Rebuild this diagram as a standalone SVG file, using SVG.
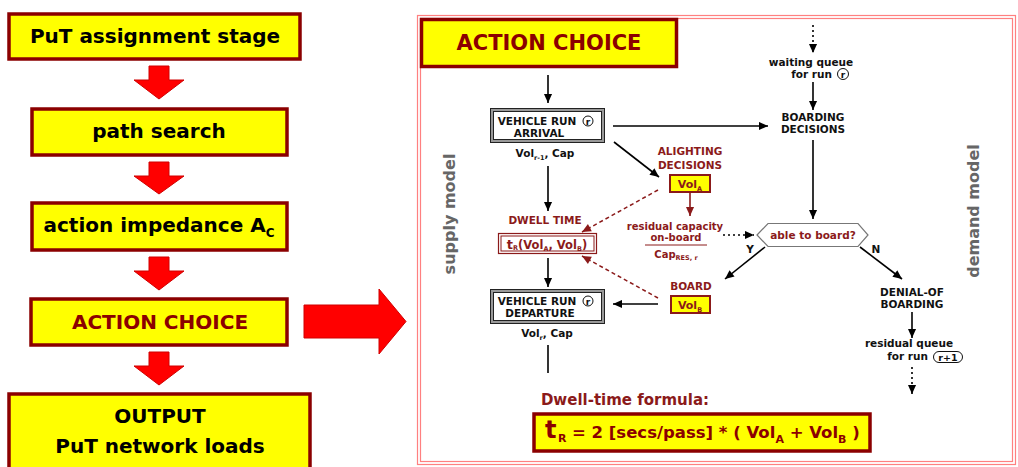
<svg xmlns="http://www.w3.org/2000/svg" width="1018" height="467" viewBox="0 0 1018 467">
<style>
text{font-family:"DejaVu Sans","Verdana",sans-serif;font-weight:bold}
.lbox{fill:#ffff00;stroke:#8b0000;stroke-width:3.5}
.ltxt{font-size:20px;fill:#000;text-anchor:middle}
.rarrow{fill:#ff0000;stroke:#d00000;stroke-width:1}
.s{font-size:10.5px;fill:#111;text-anchor:middle}
.sr{font-size:10.5px;fill:#8b1a1a;text-anchor:middle}
.sub{font-size:6.5px}
.ybox{fill:#ffff00;stroke:#8b1a1a;stroke-width:2}
.conn{stroke:#000;stroke-width:1.6;fill:none}
.dot{stroke:#000;stroke-width:1.6;fill:none;stroke-dasharray:2 3}
.dash{stroke:#8b1a1a;stroke-width:1.5;fill:none;stroke-dasharray:4 3}
.side{font-size:16px;fill:#666;text-anchor:middle}
</style>
<defs>
<marker id="ah" viewBox="0 0 10 10" refX="10" refY="5" markerWidth="10" markerHeight="9" markerUnits="userSpaceOnUse" orient="auto"><path d="M0,0.5 L10,5 L0,9.5 Z" fill="#000"/></marker>
<marker id="ahr" viewBox="0 0 10 10" refX="10" refY="5" markerWidth="10" markerHeight="9" markerUnits="userSpaceOnUse" orient="auto"><path d="M0,0.5 L10,5 L0,9.5 Z" fill="#8b1a1a"/></marker>
</defs>
<rect width="1018" height="467" fill="#fff"/>

<!-- left flow -->
<g id="n-assign"><rect class="lbox" x="9" y="14" width="291" height="45"/><text class="ltxt" x="155" y="43">PuT assignment stage</text></g>
<g id="n-path"><rect class="lbox" x="32" y="109" width="255" height="46"/><text class="ltxt" x="159" y="138">path search</text></g>
<g id="n-imp"><rect class="lbox" x="32" y="203" width="255" height="47"/><text class="ltxt" x="159" y="232">action impedance A<tspan font-size="12" dy="5">C</tspan></text></g>
<g id="n-choice"><rect class="lbox" x="31" y="299" width="256" height="46"/><text class="ltxt" x="160" y="329" style="fill:#8b0000">ACTION CHOICE</text></g>
<g id="n-output"><rect class="lbox" x="9" y="394" width="301" height="80"/><text class="ltxt" x="160" y="423">OUTPUT</text><text class="ltxt" x="160" y="453">PuT network loads</text></g>

<g id="left-arrows">
<path class="rarrow" d="M149,66 L169,66 L169,80 L184,80 L159,99 L134,80 L149,80 Z"/>
<path class="rarrow" d="M149,162 L169,162 L169,176 L184,176 L159,194 L134,176 L149,176 Z"/>
<path class="rarrow" d="M149,257 L169,257 L169,271 L184,271 L159,290 L134,271 L149,271 Z"/>
<path class="rarrow" d="M149,352 L169,352 L169,366 L184,366 L159,385 L134,366 L149,366 Z"/>
<path class="rarrow" d="M304,305 L379,305 L379,289 L406,321.5 L379,354 L379,338 L304,338 Z"/>
</g>

<!-- right panel -->
<g id="panel">
<rect x="417.5" y="15.5" width="598" height="449" fill="none" stroke="#ff8080" stroke-width="1.2"/>
<rect x="420.5" y="18.5" width="592" height="443" fill="none" stroke="#ff8080" stroke-width="1.2"/>
</g>
<g id="n-title"><rect class="lbox" x="421.5" y="19.5" width="255" height="47"/><text x="549" y="50" font-size="21" fill="#8b0000" text-anchor="middle">ACTION CHOICE</text></g>

<text class="side" transform="translate(455,214) rotate(-90)">supply model</text>
<text class="side" transform="translate(979,211) rotate(-90)">demand model</text>

<g id="n-arrival">
<rect x="490.5" y="108.5" width="114" height="34" fill="#fff" stroke="#222" stroke-width="1"/>
<rect x="492" y="110" width="111" height="31" fill="none" stroke="#999" stroke-width="2"/>
<rect x="493.5" y="111.5" width="108" height="28" fill="none" stroke="#222" stroke-width="1"/>
<text class="s" x="537" y="125">VEHICLE RUN</text>
<circle cx="588" cy="121" r="5" fill="#fff" stroke="#111" stroke-width="1"/><text x="588" y="124.5" font-size="9" fill="#111" text-anchor="middle">r</text>
<text class="s" x="539" y="137">ARRIVAL</text>
<text class="s" x="545" y="157">Vol<tspan class="sub" dy="3">r-1</tspan><tspan dy="-3">, Cap</tspan></text>
</g>

<g id="n-dwell">
<text class="sr" x="545" y="224">DWELL TIME</text>
<rect x="498.5" y="233.5" width="98" height="20" fill="#fff" stroke="#8b1a1a" stroke-width="1.2"/>
<rect x="501" y="236" width="93" height="15" fill="none" stroke="#8b1a1a" stroke-width="1"/>
<text x="547" y="249" font-size="11.5" fill="#8b1a1a" text-anchor="middle"><tspan font-size="13">t</tspan><tspan font-size="6.5" dy="1">R</tspan><tspan dy="-1">(Vol</tspan><tspan font-size="6.5" dy="2">A</tspan><tspan dy="-2">, Vol</tspan><tspan font-size="6.5" dy="2">B</tspan><tspan dy="-2">)</tspan></text>
</g>

<g id="n-departure">
<rect x="490.5" y="289.5" width="114" height="34" fill="#fff" stroke="#222" stroke-width="1"/>
<rect x="492" y="291" width="111" height="31" fill="none" stroke="#999" stroke-width="2"/>
<rect x="493.5" y="292.5" width="108" height="28" fill="none" stroke="#222" stroke-width="1"/>
<text class="s" x="537" y="305">VEHICLE RUN</text>
<circle cx="588" cy="301" r="5" fill="#fff" stroke="#111" stroke-width="1"/><text x="588" y="304.5" font-size="9" fill="#111" text-anchor="middle">r</text>
<text class="s" x="540" y="317">DEPARTURE</text>
<text class="s" x="547" y="337">Vol<tspan class="sub" dy="3">r</tspan><tspan dy="-3">, Cap</tspan></text>
</g>

<g id="n-alight">
<text class="sr" x="690" y="155">ALIGHTING</text>
<text class="sr" x="690" y="169">DECISIONS</text>
<rect class="ybox" x="670" y="175" width="40" height="17"/>
<text x="690" y="188" font-size="11" fill="#8b1a1a" text-anchor="middle">Vol<tspan font-size="6.5" dy="3">A</tspan></text>
</g>

<g id="n-rescap">
<text class="sr" x="675" y="230" style="font-size:10px">residual capacity</text>
<text class="sr" x="676" y="241" style="font-size:10px">on-board</text>
<line x1="645" y1="245" x2="707" y2="245" stroke="#8b1a1a" stroke-width="1"/>
<text class="sr" x="676" y="258" style="font-size:10px">Cap<tspan font-size="6.5" dy="2">RES, r</tspan></text>
</g>

<g id="n-board">
<text class="sr" x="691" y="290">BOARD</text>
<rect class="ybox" x="671" y="296" width="39" height="17"/>
<text x="690" y="309" font-size="11" fill="#8b1a1a" text-anchor="middle">Vol<tspan font-size="6.5" dy="3">B</tspan></text>
</g>

<g id="n-waiting">
<text class="s" x="811" y="66">waiting queue</text>
<text class="s" x="812" y="78" text-anchor="end" style="text-anchor:end" dx="20">for run</text>
<circle cx="843" cy="74" r="5.5" fill="#fff" stroke="#111" stroke-width="1"/><text x="843" y="77.5" font-size="9" fill="#111" text-anchor="middle">r</text>
</g>

<g id="n-boarddec">
<text class="s" x="813" y="121">BOARDING</text>
<text class="s" x="813" y="133">DECISIONS</text>
</g>

<g id="n-able">
<polygon points="757,235 768,223.5 858,223.5 868,235 858,246.5 768,246.5" fill="#fff" stroke="#777" stroke-width="1.2"/>
<text x="813" y="239" font-size="10.5" fill="#8b1a1a" text-anchor="middle">able to board?</text>
<text class="s" x="750" y="253">Y</text>
<text class="s" x="876" y="253">N</text>
</g>

<g id="n-denial">
<text class="s" x="912" y="296">DENIAL-OF</text>
<text class="s" x="912" y="308">BOARDING</text>
</g>

<g id="n-resqueue">
<text class="s" x="909" y="347">residual queue</text>
<text class="s" x="928" y="360" style="text-anchor:end">for run</text>
<rect x="933.5" y="351.5" width="29" height="11" rx="5.5" fill="#fff" stroke="#111" stroke-width="1"/>
<text x="948" y="360.5" font-size="9.5" fill="#111" text-anchor="middle">r+1</text>
</g>

<g id="connectors">
<line class="conn" x1="548" y1="75" x2="548" y2="103" marker-end="url(#ah)"/>
<line class="conn" x1="548" y1="166" x2="548" y2="211" marker-end="url(#ah)"/>
<line class="conn" x1="548" y1="258" x2="548" y2="287" marker-end="url(#ah)"/>
<line class="conn" x1="548" y1="345" x2="548" y2="373"/>
<line class="conn" x1="613" y1="126" x2="768" y2="126" marker-end="url(#ah)"/>
<line class="conn" x1="614" y1="142" x2="659" y2="177" marker-end="url(#ah)"/>
<line x1="690" y1="192" x2="690" y2="216" stroke="#8b1a1a" stroke-width="1.6" marker-end="url(#ahr)"/>
<line class="dot" x1="723" y1="235" x2="754" y2="235" marker-end="url(#ah)"/>
<line class="dot" x1="813" y1="25" x2="813" y2="53" marker-end="url(#ah)"/>
<line class="conn" x1="813" y1="82" x2="813" y2="110" marker-end="url(#ah)"/>
<line class="conn" x1="813" y1="140" x2="813" y2="219" marker-end="url(#ah)"/>
<line class="conn" x1="765" y1="247" x2="725" y2="279" marker-end="url(#ah)"/>
<line class="conn" x1="860" y1="247" x2="902" y2="279" marker-end="url(#ah)"/>
<line class="conn" x1="912" y1="312" x2="912" y2="338" marker-end="url(#ah)"/>
<line class="dot" x1="912" y1="367" x2="912" y2="394" marker-end="url(#ah)"/>
<line class="conn" x1="658" y1="304" x2="613" y2="304" marker-end="url(#ah)"/>
<line class="dash" x1="658" y1="190" x2="582" y2="232" marker-end="url(#ahr)"/>
<line class="dash" x1="658" y1="298" x2="582" y2="256" marker-end="url(#ahr)"/>
</g>

<g id="formula">
<text x="625" y="405" font-size="15" fill="#8b1a1a" text-anchor="middle">Dwell-time formula:</text>
<rect class="lbox" x="534" y="414" width="336" height="37"/>
<text y="438" font-size="16.5" fill="#8b0000"><tspan x="545" font-size="24">t</tspan><tspan x="558" font-size="11" dy="4">R</tspan><tspan x="572" dy="-4">= 2 [secs/pass] * ( Vol</tspan><tspan font-size="11" dy="5">A</tspan><tspan dy="-5"> + Vol</tspan><tspan font-size="11" dy="5">B</tspan><tspan dy="-5"> )</tspan></text>
</g>
</svg>
